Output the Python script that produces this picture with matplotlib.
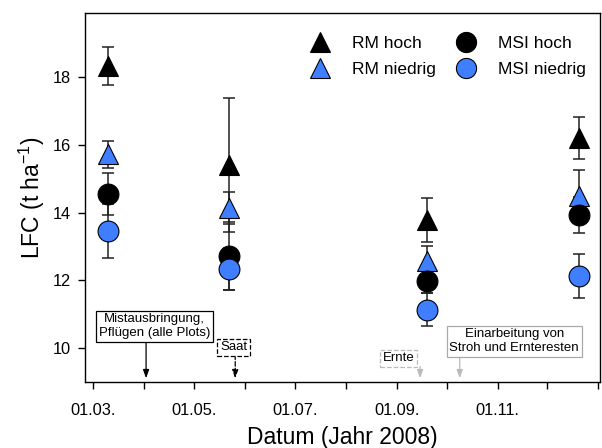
import matplotlib
matplotlib.use('Agg')
import matplotlib.pyplot as plt
import matplotlib.dates as mdates
from matplotlib.lines import Line2D
from datetime import date

plt.rcParams['font.family'] = ['Liberation Sans', 'DejaVu Sans']
plt.rcParams['mathtext.fontset'] = 'custom'
plt.rcParams['mathtext.rm'] = 'Liberation Sans'
plt.rcParams['mathtext.it'] = 'Liberation Sans:italic'

# sampling dates and LFC values (t/ha) with error
sampling_dates = [date(2008, 3, 10), date(2008, 5, 22), date(2008, 9, 19), date(2008, 12, 20)]
rm_hoch = [18.34, 15.41, 13.79, 16.22]
rm_hoch_err = [0.56, 1.98, 0.64, 0.62]
rm_niedrig = [15.73, 14.13, 12.56, 14.50]
rm_niedrig_err = [0.40, 0.47, 0.46, 0.76]
msi_hoch = [14.55, 12.73, 11.98, 13.93]
msi_hoch_err = [0.62, 1.00, 0.35, 0.54]
msi_niedrig = [13.46, 12.35, 11.14, 12.12]
msi_niedrig_err = [0.80, 0.62, 0.50, 0.65]

# management events
event_labels = ['Mistausbringung,\nPflügen (alle Plots)', 'Saat', 'Ernte',
                'Einarbeitung von\nStroh und Ernteresten']
event_dates = [date(2008, 4, 2), date(2008, 5, 26), date(2008, 9, 15), date(2008, 10, 9)]

blue = '#3f7fff'

fig = plt.figure(figsize=(6.02, 4.48), dpi=100)
ax = fig.add_axes([0.1412, 0.1473, 0.8555, 0.8237])

series = [
    (rm_hoch, rm_hoch_err, '^', 'black', 'RM hoch'),
    (rm_niedrig, rm_niedrig_err, '^', blue, 'RM niedrig'),
    (msi_hoch, msi_hoch_err, 'o', 'black', 'MSI hoch'),
    (msi_niedrig, msi_niedrig_err, 'o', blue, 'MSI niedrig'),
]

handles = []
for i, (vals, errs, mk, col, lab) in enumerate(series):
    ax.errorbar(sampling_dates, vals, yerr=errs, fmt='none', ecolor='#222222',
                elinewidth=1.1, capsize=4.5, capthick=1.1, zorder=2 + i * 0.1)
for i, (vals, errs, mk, col, lab) in enumerate(series):
    ax.plot(sampling_dates, vals, linestyle='none', marker=mk, markersize=15,
            markerfacecolor=col, markeredgecolor='black', markeredgewidth=0.8, zorder=3 + i)
    handles.append(Line2D([0], [0], linestyle='none', marker=mk, markersize=14.5,
                          markerfacecolor=col, markeredgecolor='black', markeredgewidth=0.8,
                          label=lab))

# event annotations: text centre (date, y), box style, arrow colour/style, arrow start
layout = [
    (date(2008, 4, 7), 10.65, '-', 'black', 'black', '-', 10.17),
    (date(2008, 5, 25), 10.03, '--', 'black', 'black', '--', 9.80),
    (date(2008, 9, 2), 9.70, '--', '#bbbbbb', '#bbbbbb', '-', 9.46),
    (date(2008, 11, 11), 10.21, '-', '#aaaaaa', '#bbbbbb', '-', 9.75),
]
for lab, d, (tx, ty, bls, bcol, acol, als, ay) in zip(event_labels, event_dates, layout):
    ax.text(tx, ty, lab, ha='center', va='center', fontsize=9.5, linespacing=1.2,
            bbox=dict(boxstyle='square,pad=0.2', facecolor='white', edgecolor=bcol,
                      linestyle=bls, linewidth=0.9), zorder=6)
    ax.annotate('', xy=(d, 9.11), xytext=(d, ay),
                arrowprops=dict(arrowstyle='-|>,head_length=0.5,head_width=0.18',
                                color=acol, lw=0.9, linestyle=als,
                                shrinkA=0, shrinkB=0), zorder=5)

ax.set_xlim(date(2008, 2, 25), date(2009, 1, 2))
ax.set_ylim(9, 19.9)
ax.set_yticks([10, 12, 14, 16, 18])
ax.xaxis.set_major_locator(mdates.MonthLocator(bymonth=[3, 5, 7, 9, 11]))
ax.xaxis.set_minor_locator(mdates.MonthLocator())
ax.xaxis.set_major_formatter(mdates.DateFormatter('%d.%m.'))
ax.tick_params(axis='both', which='both', direction='out', length=5, width=1,
               labelsize=11.8, pad=10)
ax.tick_params(axis='y', pad=5)
for s in ax.spines.values():
    s.set_linewidth(1)

ax.set_xlabel('Datum (Jahr 2008)', fontsize=16.5, labelpad=6)
ax.set_ylabel(r'LFC (t ha$^{-1}$)', fontsize=16.5, labelpad=4)

ax.legend(handles=handles, ncol=2, frameon=False, loc='upper right',
          bbox_to_anchor=(1.0, 0.975), fontsize=12.5, handletextpad=0.85,
          columnspacing=0.75, labelspacing=0.62, borderaxespad=0.4)

fig.savefig('out.png', dpi=100)
